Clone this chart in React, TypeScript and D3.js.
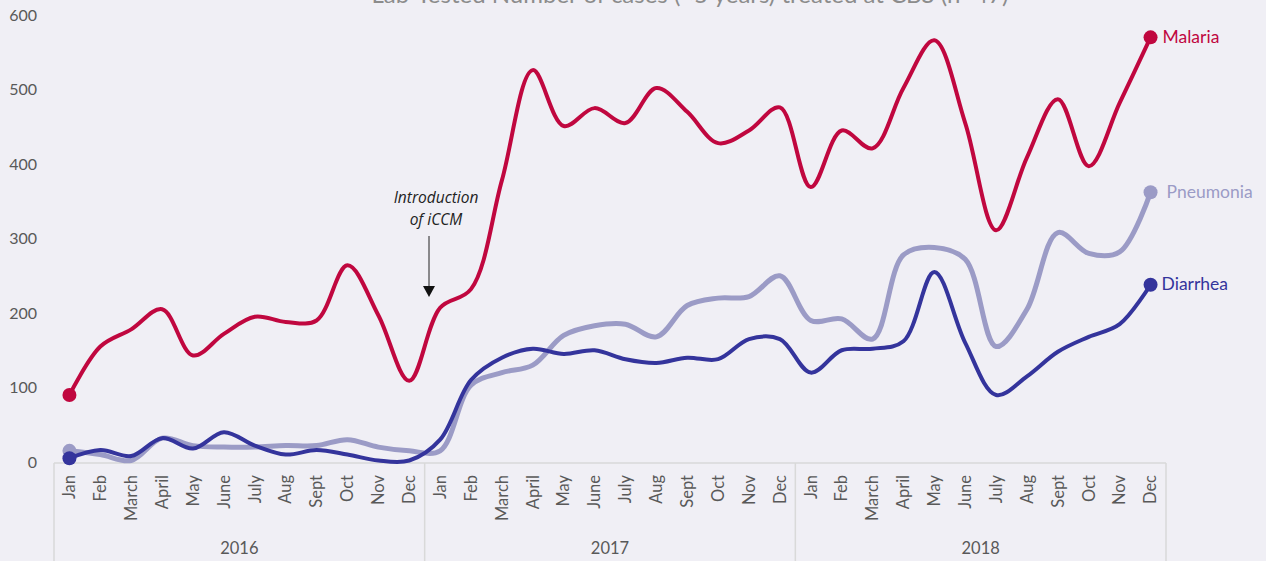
import React from 'react';
import * as d3 from 'd3';

const months = ['Jan', 'Feb', 'March', 'April', 'May', 'June', 'July', 'Aug', 'Sept', 'Oct', 'Nov', 'Dec'];
const years = ['2016', '2017', '2018'];

const malaria = [
    90, 155, 178, 205, 143, 172, 195, 188, 190, 264, 197, 109,
    207, 232, 378, 526, 451, 475, 455, 502, 470, 428, 445, 476,
    369, 445, 421, 502, 566, 455, 311, 409, 487, 397, 482, 570
];
const pneumonia = [
    15, 10, 2, 32, 22, 20, 20, 22, 22, 30, 20, 15,
    15, 103, 120, 130, 170, 183, 185, 168, 210, 220, 222, 250,
    190, 192, 165, 278, 288, 272, 155, 205, 308, 280, 282, 362
];
const diarrhea = [
    5, 16, 8, 32, 18, 40, 22, 10, 16, 10, 2, 2,
    30, 110, 140, 152, 145, 150, 138, 133, 140, 138, 165, 165,
    120, 150, 152, 162, 255, 160, 90, 115, 148, 168, 185, 238
];
const yTicks = [0, 100, 200, 300, 400, 500, 600];

const series = [
    { name: 'Pneumonia', values: pneumonia, color: '#9b9bc6', width: 5, labelDx: 16 },
    { name: 'Diarrhea', values: diarrhea, color: '#34349c', width: 4, labelDx: 11 },
    { name: 'Malaria', values: malaria, color: '#c0073f', width: 4, labelDx: 12 },
];

const W = 1266;
const H = 561;
const left = 54;
const right = 1166;
const axisY = 463;
const font = 'Lato, "Open Sans", sans-serif';
const grey = '#595959';

const App: React.FC = () => {
    const idx = d3.range(36);
    const x = d3.scalePoint<number>().domain(idx).range([left, right]).padding(0.5);
    const y = d3.scaleLinear().domain([0, 600]).range([462, 15]);
    const line = d3.line<number>()
        .x((_, i) => x(i) as number)
        .y(d => y(d))
        .curve(d3.curveCatmullRom.alpha(0.5));
    const step = x.step();

    return (
        <svg width={W} height={H} style={{ position: 'absolute', left: 0, top: 0, background: '#f0eff5' }}>
            <rect width={W} height={H} fill="#f0eff5" />

            {/* title, cut off at the top as in the source */}
            <text x={690} y={3} textAnchor="middle" fontFamily={font} fontSize={24} fill="#8c8c8c">
                Lab-Tested Number of cases (&lt;5 years) treated at CBS (n=47)
            </text>

            {/* y labels */}
            {yTicks.map(t => (
                <text key={t} x={37} y={y(t)} dy="0.35em" textAnchor="end" fontFamily={font} fontSize={16} fill={grey}>
                    {t}
                </text>
            ))}

            {/* category axis frame */}
            <line x1={left} x2={right} y1={axisY} y2={axisY} stroke="#d9d9d9" strokeWidth={1.5} />
            {[0, 12, 24, 36].map(k => (
                <line key={k} x1={left + k * step} x2={left + k * step} y1={axisY} y2={H} stroke="#d9d9d9" strokeWidth={1.5} />
            ))}

            {idx.map(i => (
                <text key={i} transform={`translate(${x(i)},${475}) rotate(-90)`} dy="0.35em" textAnchor="end"
                    fontFamily={font} fontSize={16.5} fill={grey}>
                    {months[i % 12]}
                </text>
            ))}
            {years.map((yr, k) => (
                <text key={yr} x={left + (k * 12 + 6) * step} y={554} textAnchor="middle" fontFamily={font} fontSize={16.5} fill={grey}>
                    {yr}
                </text>
            ))}

            {/* lines */}
            {series.map(s => (
                <g key={s.name}>
                    <path d={line(s.values) || ''} fill="none" stroke={s.color} strokeWidth={s.width} strokeLinejoin="round" />
                    <circle cx={x(0)} cy={y(s.values[0])} r={7} fill={s.color} />
                    <circle cx={x(35)} cy={y(s.values[35])} r={7} fill={s.color} />
                    <text x={(x(35) as number) + s.labelDx} y={y(s.values[35])} dy="0.3em" fontFamily={font} fontSize={17.5} fill={s.color}>
                        {s.name}
                    </text>
                </g>
            ))}

            {/* annotation */}
            <text x={436} y={203} textAnchor="middle" fontFamily='"Open Sans", sans-serif' fontStyle="italic" fontSize={15.5} fill="#222">
                Introduction
            </text>
            <text x={436} y={225} textAnchor="middle" fontFamily='"Open Sans", sans-serif' fontStyle="italic" fontSize={15.5} fill="#222">
                of iCCM
            </text>
            <line x1={429} x2={429} y1={236} y2={288} stroke="#222" strokeWidth={1} />
            <path d="M423,286 L435,286 L429,297 Z" fill="#111" />
        </svg>
    );
};

export default App;
